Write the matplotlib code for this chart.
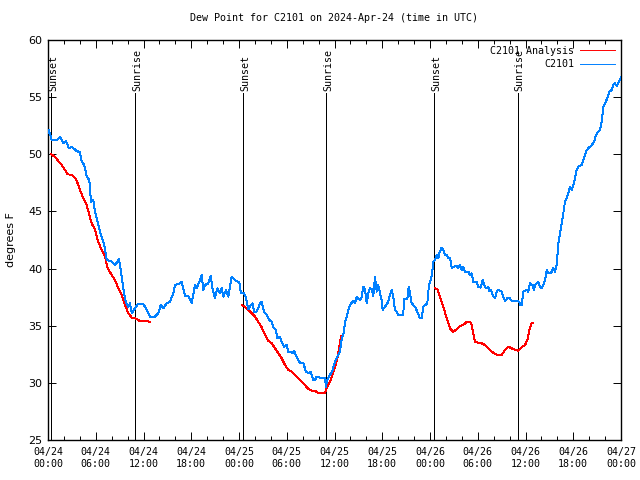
import numpy as np
import matplotlib
matplotlib.use("Agg")
import matplotlib.pyplot as plt
from matplotlib.ticker import MultipleLocator, FixedLocator

# ---- data (time in hours since 2024-04-24 00:00 UTC, dew point in F) ----
obs_hours = [0.0, 0.13, 0.46, 1.17, 1.51, 1.92, 2.26, 2.64, 2.98, 3.30, 3.61, 4.02, 4.23, 4.56,
             4.86, 5.19, 5.40, 5.69, 5.91, 6.32, 6.66, 7.07, 7.38, 8.00, 8.42, 8.92, 9.17, 9.46,
             9.76, 10.09, 10.30, 10.52, 10.93, 11.27, 11.97, 12.19, 12.40, 12.82, 13.44, 13.86,
             14.16, 14.49, 14.91, 15.33, 15.74, 15.96, 16.59, 16.80, 17.21, 17.63, 18.06, 18.26,
             18.47, 18.68, 19.10, 19.31, 19.51, 19.73, 20.14, 20.44, 20.70, 20.98, 21.27, 21.61,
             21.83, 22.03, 22.37, 22.66, 23.08, 23.50, 24.04, 24.25, 24.63, 24.88, 25.17, 25.47,
             25.72, 25.88, 26.22, 26.64, 26.85, 27.14, 27.48, 27.81, 28.11, 28.31, 28.65, 28.81,
             29.15, 29.36, 29.65, 29.99, 30.19, 30.50, 30.75, 30.91, 31.25, 31.58, 31.75, 32.08,
             32.42, 32.71, 33.01, 33.34, 33.55, 33.76, 34.39, 34.81, 34.93, 35.09, 35.43, 35.77,
             36.06, 36.35, 36.69, 36.90, 37.19, 37.32, 37.53, 37.73, 37.95, 38.16, 38.36, 38.58,
             38.79, 39.20, 39.42, 39.62, 39.83, 40.05, 40.25, 40.46, 40.67, 40.87, 41.09, 41.30,
             41.50, 41.72, 41.93, 42.05, 42.34, 42.76, 42.97, 43.18, 43.39, 43.60, 43.82, 44.02,
             44.64, 44.73, 45.15, 45.32, 45.49, 45.70, 46.11, 46.40, 46.74, 46.96, 47.16, 47.66,
             47.87, 48.09, 48.25, 48.41, 48.63, 48.84, 49.04, 49.17, 49.47, 49.67, 49.89, 50.10,
             50.30, 50.51, 50.73, 51.01, 51.35, 51.56, 51.77, 51.98, 52.18, 52.40, 52.81, 53.03,
             53.24, 53.44, 53.87, 54.07, 54.37, 54.62, 54.82, 55.04, 55.33, 55.45, 55.66, 55.88,
             56.16, 56.38, 56.58, 57.01, 57.21, 57.42, 57.71, 57.96, 58.27, 58.89, 59.22, 59.31,
             59.52, 59.72, 60.15, 60.35, 60.56, 60.90, 61.07, 61.19, 61.41, 61.61, 61.82, 62.04,
             62.24, 62.45, 62.67, 62.87, 63.08, 63.30, 63.49, 63.71, 63.92, 64.13, 64.34, 64.55,
             64.75, 64.96, 65.18, 65.38, 65.59, 65.81, 66.00, 66.22, 66.43, 66.63, 67.06, 67.26,
             67.48, 67.70, 67.89, 68.32, 68.61, 68.86, 69.15, 69.36, 69.57, 69.78, 69.99, 70.28,
             70.53, 70.83, 71.03, 71.24, 71.46, 71.66, 71.96, 72.0]
obs_dewpt = [51.9, 52.1, 51.25, 51.25, 51.54, 50.96, 51.16, 50.52, 50.66, 50.46, 50.29, 50.17, 49.35, 49.06,
             48.04, 47.75, 45.85, 46.0, 44.98, 43.81, 42.94, 42.06, 40.75, 40.6, 40.31, 40.81, 39.73, 38.27,
             37.1, 36.66, 36.96, 36.09, 36.52, 36.87, 36.87, 36.66, 36.38, 35.79, 35.79, 36.09,
             36.81, 36.52, 36.96, 37.1, 37.84, 38.56, 38.71, 38.85, 37.6, 37.6, 37.01, 37.69,
             38.56, 38.27, 39.0, 39.44, 38.13, 38.56, 38.71, 39.35, 38.13, 37.4, 38.27, 37.84,
             38.27, 37.54, 38.13, 37.54, 39.29, 39.0, 38.76, 37.84, 37.89, 37.4, 36.44, 36.81,
             36.96, 36.23, 36.23, 36.96, 37.1, 36.23, 35.94, 35.5, 35.35, 34.86, 34.63, 33.9,
             34.04, 33.6, 33.16, 33.31, 32.73, 32.73, 32.59, 32.79, 32.29, 31.85, 31.71, 31.71,
             30.98, 30.84, 30.98, 30.25, 30.25, 30.54, 30.4, 30.4, 29.66, 30.25, 30.69, 31.13,
             31.85, 32.29, 32.73, 33.81, 34.48, 35.35, 35.79, 36.38, 36.81, 37.01, 37.19, 37.01,
             37.48, 37.25, 37.54, 38.41, 38.19, 36.96, 37.84, 38.27, 38.19, 37.6, 39.29, 37.98,
             38.56, 37.84, 37.25, 36.38, 36.66, 37.1, 37.69, 38.13, 37.54, 36.38, 36.23, 35.94,
             35.94, 37.31, 37.31, 38.41, 37.84, 36.96, 36.66, 36.23, 35.65, 35.65, 36.66, 36.96,
             38.56, 39.0, 39.44, 40.6, 40.75, 41.19, 40.9, 41.34, 41.84, 41.63, 41.19, 41.19,
             40.9, 40.96, 40.03, 40.17, 40.26, 40.03, 40.32, 39.88, 40.17, 39.73, 39.73, 39.44,
             39.58, 38.85, 38.85, 38.41, 38.33, 39.0, 38.56, 38.27, 38.41, 38.04, 38.13, 37.69,
             37.4, 37.98, 38.13, 37.98, 37.54, 37.16, 37.4, 37.45, 37.16, 37.16, 37.1, 36.81,
             36.81, 37.98, 38.13, 37.98, 38.71, 38.56, 38.13, 38.56, 38.71, 38.85, 38.41, 38.27,
             38.56, 39.0, 39.88, 39.58, 39.58, 39.73, 40.03, 39.73, 40.31, 42.21, 43.08, 43.96,
             44.83, 45.85, 46.14, 46.58, 47.16, 46.88, 47.31, 47.9, 48.63, 48.92, 49.06, 49.5,
             49.94, 50.37, 50.52, 50.81, 51.1, 51.69, 51.98, 52.13, 52.85, 54.17, 54.46, 54.9,
             55.48, 55.63, 56.06, 56.21, 55.98, 56.21, 56.65, 56.8]

ana_hours = [0.38, 0.88, 1.29, 1.72, 2.14, 2.48, 2.98, 3.39, 3.73, 4.02, 4.44, 4.86, 5.19, 5.49,
             5.91, 6.24, 6.66, 7.16, 7.50, 8.00, 8.42, 8.83, 9.26, 9.68, 10.09, 10.52, 10.93,
             11.47, 12.06, 12.82,
             np.nan,
             24.34, 24.75, 25.17, 25.60, 26.01, 26.42, 26.85, 27.27, 27.68, 28.11, 28.52, 28.94,
             29.36, 29.78, 30.19, 30.62, 31.04, 31.45, 31.88, 32.29, 32.71, 33.13, 33.55, 33.96,
             34.39, 34.81, 34.93, 35.22, 35.52, 35.85, 36.15, 36.40, 36.60, 36.82,
             np.nan,
             48.63, 48.92, 49.26, 49.67, 50.10, 50.51, 50.93, 51.35, 51.77, 52.18, 52.61, 53.03,
             53.24, 53.44, 53.65, 54.07, 54.50, 54.91, 55.33, 55.75, 56.16, 56.58, 57.01, 57.42,
             57.84, 58.27, 58.68, 59.09, 59.52, 59.94, 60.23, 60.48, 60.78, 60.98]
ana_dewpt = [50.0, 49.79, 49.41, 49.06, 48.63, 48.25, 48.19, 47.95, 47.46, 46.88, 46.15, 45.56, 44.69, 43.96,
             43.38, 42.5, 41.77, 41.04, 40.02, 39.44, 39.0, 38.27, 37.69, 36.81, 36.09, 35.7, 35.65,
             35.44, 35.41, 35.35,
             np.nan,
             36.81, 36.66, 36.38, 36.09, 35.79, 35.35, 34.86, 34.19, 33.69, 33.46, 33.02, 32.59,
             32.15, 31.56, 31.13, 30.98, 30.69, 30.4, 30.1, 29.81, 29.46, 29.31, 29.31, 29.09,
             29.09, 29.09, 29.4, 29.81, 30.25, 30.98, 31.56, 32.29, 33.16, 34.1,
             np.nan,
             38.27, 38.19, 37.54, 36.66, 35.65, 34.77, 34.48, 34.69, 34.98, 35.06, 35.35, 35.35,
             35.06, 34.34, 33.6, 33.51, 33.46, 33.31, 33.02, 32.73, 32.53, 32.44, 32.44, 32.88,
             33.16, 33.02, 32.88, 32.81, 33.11, 33.31, 33.75, 34.63, 35.26, 35.26]

event_hours = [0.38, 10.93, 24.5, 34.93, 48.5, 59.0]
event_labels = ["Sunset", "Sunrise", "Sunset", "Sunrise", "Sunset", "Sunrise"]

xtick_hours = [0, 6, 12, 18, 24, 30, 36, 42, 48, 54, 60, 66, 72]
xtick_labels = ["04/24\n00:00", "04/24\n06:00", "04/24\n12:00", "04/24\n18:00",
                "04/25\n00:00", "04/25\n06:00", "04/25\n12:00", "04/25\n18:00",
                "04/26\n00:00", "04/26\n06:00", "04/26\n12:00", "04/26\n18:00",
                "04/27\n00:00"]

title = "Dew Point for C2101 on 2024-Apr-24 (time in UTC)"

# ---- figure ----
MONO = "DejaVu Sans Mono"
LW = 0.7
fig = plt.figure(figsize=(6.4, 4.8), dpi=100)
ax = fig.add_axes([48/640, 1-440/480, (621-48)/640, 400/480])

ax.set_xlim(0, 72)
ax.set_ylim(25, 60)

for h, lab in zip(event_hours, event_labels):
    ax.plot([h, h], [25, 55.35], color="black", lw=LW, antialiased=False, zorder=2)
    ax.text(h + 0.25, 55.5, lab, rotation=90, ha="center", va="bottom",
            fontsize=7.2, family=MONO, color="black")

ax.plot(ana_hours, ana_dewpt, color="#ff0000", lw=LW, antialiased=False,
        label="C2101 Analysis", zorder=3)
ax.plot(obs_hours, obs_dewpt, color="#0080ff", lw=LW, antialiased=False,
        label="C2101", zorder=3)

ax.xaxis.set_major_locator(FixedLocator(xtick_hours))
ax.set_xticklabels(xtick_labels, family=MONO, fontsize=7.2)
ax.xaxis.set_minor_locator(MultipleLocator(2))
ax.yaxis.set_major_locator(MultipleLocator(5))
ax.tick_params(axis="both", which="major", direction="in", length=6, width=LW,
               top=True, right=True, labelsize=8, pad=4)
ax.tick_params(axis="x", which="minor", direction="in", length=3, width=LW,
               top=True, bottom=True)
ax.tick_params(axis="x", which="major", labelsize=7.2, pad=5)
for sp in ax.spines.values():
    sp.set_linewidth(1)

ax.set_ylabel("degrees F", fontsize=8)
ax.yaxis.set_label_coords(-0.056, 0.5)
ax.set_title(title, family=MONO, fontsize=7.2, pad=14)

leg = ax.legend(loc="upper right", frameon=False, prop={"family": MONO, "size": 7.2},
                markerfirst=False, handlelength=3.5, handletextpad=0.6,
                labelspacing=0.35, borderaxespad=0.2)

fig.savefig("out.png", dpi=100)
